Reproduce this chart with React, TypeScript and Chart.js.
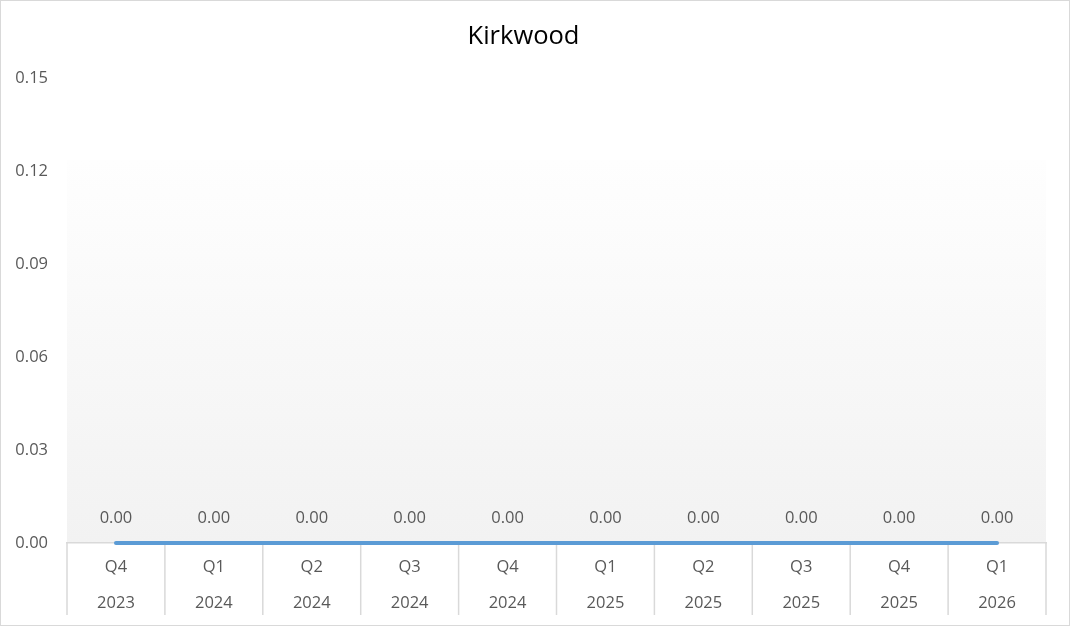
import { useEffect, useRef } from "react";
import { Chart, registerables } from "chart.js";

Chart.register(...registerables);

const quarters = ["Q4", "Q1", "Q2", "Q3", "Q4", "Q1", "Q2", "Q3", "Q4", "Q1"];
const years = ["2023", "2024", "2024", "2024", "2024", "2025", "2025", "2025", "2025", "2026"];
const values = [0, 0, 0, 0, 0, 0, 0, 0, 0, 0];

const FONT = "'Open Sans', 'Liberation Sans', sans-serif";
const GREY = "#595959";

// soft grey fade in the plot area, like the Excel fill
const plotFill = {
  id: "plotFill",
  beforeDraw(chart: any) {
    const { ctx, chartArea: a } = chart;
    const top = a.top + (a.bottom - a.top) * 0.175;
    const g = ctx.createLinearGradient(0, top, 0, a.bottom);
    g.addColorStop(0, "#fefefe");
    g.addColorStop(1, "#f2f2f2");
    ctx.save();
    ctx.fillStyle = g;
    ctx.fillRect(a.left, top, a.right - a.left, a.bottom - top);
    ctx.restore();
  },
};

// vertical dividers between the category groups under the axis
const dividers = {
  id: "dividers",
  beforeDatasetsDraw(chart: any) {
    const { ctx, chartArea: a } = chart;
    const x = chart.scales.x;
    const n = quarters.length;
    const step = x.getPixelForValue(1) - x.getPixelForValue(0);
    ctx.save();
    ctx.strokeStyle = "#d9d9d9";
    ctx.lineWidth = 1.5;
    for (let i = 0; i <= n; i++) {
      const px = x.getPixelForValue(0) - step / 2 + i * step;
      ctx.beginPath();
      ctx.moveTo(px, a.bottom);
      ctx.lineTo(px, a.bottom + 72);
      ctx.stroke();
    }
    ctx.restore();
  },
};

const pointLabels = {
  id: "pointLabels",
  afterDatasetsDraw(chart: any) {
    const { ctx } = chart;
    const meta = chart.getDatasetMeta(0);
    ctx.save();
    ctx.font = `16.5px ${FONT}`;
    ctx.fillStyle = GREY;
    ctx.textAlign = "center";
    ctx.textBaseline = "middle";
    meta.data.forEach((pt: any, i: number) => {
      ctx.fillText(values[i].toFixed(2), pt.x, pt.y - 25);
    });
    ctx.restore();
  },
};

export default function App() {
  const canvasRef = useRef<HTMLCanvasElement | null>(null);

  useEffect(() => {
    if (!canvasRef.current) return;
    const chart = new Chart(canvasRef.current, {
      type: "line",
      data: {
        labels: quarters.map((q, i) => [q, years[i]]),
        datasets: [
          {
            data: values,
            borderColor: "#5b9bd5",
            borderWidth: 4,
            borderCapStyle: "round",
            pointRadius: 0,
            fill: false,
            clip: false,
          },
        ],
      },
      options: {
        animation: false,
        responsive: false,
        layout: { padding: { left: 0, right: 23, bottom: 0 } },
        plugins: {
          legend: { display: false },
          tooltip: { enabled: false },
          title: {
            display: true,
            text: "Kirkwood",
            color: "#000000",
            font: { family: FONT, size: 25.5, weight: "normal", lineHeight: 1.2 },
            padding: { top: 20, bottom: 27 },
          },
        },
        scales: {
          x: {
            offset: true,
            afterFit(scale: any) {
              scale.height = 82;
            },
            grid: { display: false, drawTicks: false },
            border: { display: true, color: "#d9d9d9", width: 1.5 },
            ticks: {
              color: GREY,
              font: { family: FONT, size: 16.5, lineHeight: "36px" },
              padding: 6,
              maxRotation: 0,
              autoSkip: false,
            },
          },
          y: {
            min: 0,
            max: 0.15,
            afterFit(scale: any) {
              scale.width = 66;
            },
            grid: { display: false, drawTicks: false },
            border: { display: false },
            ticks: {
              stepSize: 0.03,
              color: GREY,
              padding: 19,
              font: { family: FONT, size: 16.5 },
              callback: (v: any) => Number(v).toFixed(2),
            },
          },
        },
      },
      plugins: [plotFill, dividers, pointLabels],
    });
    return () => chart.destroy();
  }, []);

  return (
    <div
      style={{
        position: "absolute",
        left: 0,
        top: 0,
        width: 1070,
        height: 626,
        boxSizing: "border-box",
        border: "1px solid #d9d9d9",
        background: "#ffffff",
      }}
    >
      <canvas ref={canvasRef} width={1068} height={624} style={{ display: "block" }} />
    </div>
  );
}
